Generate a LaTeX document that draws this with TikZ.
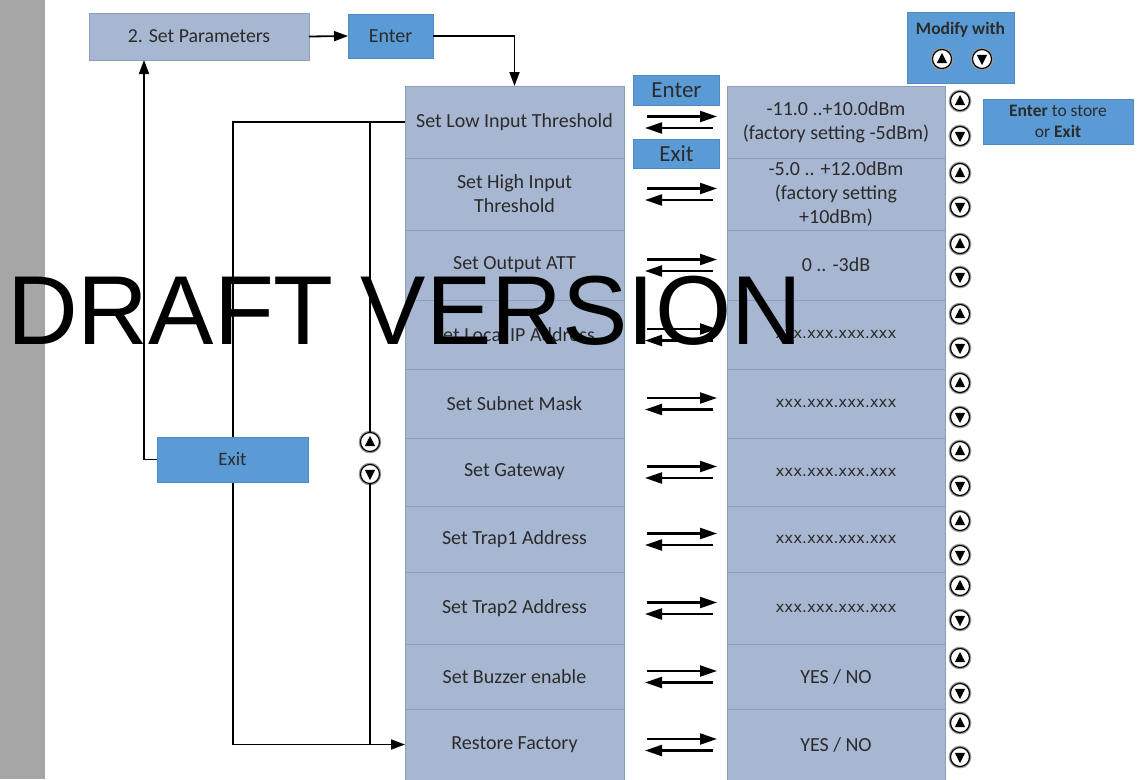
\documentclass[tikz,border=0pt]{standalone}
\usepackage{fontspec}
\setmainfont{Carlito}
\newfontfamily\arialf{Liberation Sans}
\newfontfamily\verd{DejaVu Sans}
\usetikzlibrary{arrows.meta,calc}
\definecolor{boxfill}{HTML}{A7B7D1}
\definecolor{boxline}{HTML}{8D9EBB}
\definecolor{bluefill}{HTML}{5B9BD5}
\definecolor{bluedge}{HTML}{4F8AC0}
\definecolor{txt}{HTML}{2B2B2B}
\definecolor{sidebar}{HTML}{A6A6A6}
\begin{document}
\begin{tikzpicture}[x=1pt,y=-1pt,
  lbox/.style={fill=boxfill, draw=boxline, line width=0.6pt, inner sep=0pt, outer sep=0pt,
    align=center, text=txt, font=\fontsize{20}{24}\selectfont},
  lcol/.style={lbox, minimum width=219pt},
  rcol/.style={lbox, minimum width=218pt},
  bbox/.style={fill=bluefill, draw=bluedge, line width=0.5pt, inner sep=0pt, outer sep=0pt,
    align=center, text=txt},
  conn/.style={line width=1.8pt, draw=black},
  arr/.style={conn, -{Triangle[length=14pt,width=10pt]}},
  dbl/.style={line width=2.2pt, draw=black, -{Triangle[length=17pt,width=11pt]}},
  btn/.style={circle, draw=black, line width=1.2pt, minimum size=19pt, inner sep=0pt, fill=white,
    preaction={draw=black!40, line width=3.6pt}},
  btnup/.style={btn, path picture={\fill[black] ([yshift=6pt]path picture bounding box.center)
     -- ([shift={(-5.2pt,-4.2pt)}]path picture bounding box.center)
     -- ([shift={(5.2pt,-4.2pt)}]path picture bounding box.center) -- cycle;}},
  btndn/.style={btn, path picture={\fill[black] ([yshift=-6pt]path picture bounding box.center)
     -- ([shift={(-5.2pt,4.2pt)}]path picture bounding box.center)
     -- ([shift={(5.2pt,4.2pt)}]path picture bounding box.center) -- cycle;}},
  ipf/.style={font=\verd\fontsize{15}{18}\selectfont}
]
\useasboundingbox (0,0) rectangle (1140,779);
\fill[sidebar] (0,0) rectangle (45,779);

% top boxes
\node[lbox, minimum width=220pt, minimum height=47pt, font=\fontsize{19.8}{22}\selectfont] (SP) at (199,36.5) {2. Set Parameters};
\node[bbox, minimum width=85pt, minimum height=44pt, font=\fontsize{20}{22}\selectfont] (EN) at (390.5,36) {Enter};

% left column
\node[lcol, minimum height=72pt] (L1) at (514.5,122) {Set Low Input Threshold};
\node[lcol, minimum height=72pt] (L2) at (514.5,194) {Set High Input\\Threshold};
\node[lcol, minimum height=70pt] (L3) at (514.5,265) {Set Output ATT};
\node[lcol, minimum height=69pt] (L4) at (514.5,334.5) {Set Local IP Address};
\node[lcol, minimum height=69pt] (L5) at (514.5,403.5) {Set Subnet Mask};
\node[lcol, minimum height=68pt] (L6) at (514.5,472) {Set Gateway};
\node[lcol, minimum height=66pt] (L7) at (514.5,539) {Set Trap1 Address};
\node[lcol, minimum height=72pt] (L8) at (514.5,608) {Set Trap2 Address};
\node[lcol, minimum height=65pt] (L9) at (514.5,676.5) {Set Buzzer enable};
\node[lcol, minimum height=71pt] (L10) at (514.5,744.5) {Restore Factory};

% right column
\node[rcol, minimum height=72pt] (R1) at (836,122) {-11.0 ..+10.0dBm\\(factory setting -5dBm)};
\node[rcol, minimum height=72pt] (R2) at (836,194) {-5.0 .. +12.0dBm\\(factory setting\\+10dBm)};
\node[rcol, minimum height=70pt] (R3) at (836,265) {0 .. -3dB};
\node[rcol, minimum height=69pt, ipf] (R4) at (836,334.5) {xxx.xxx.xxx.xxx};
\node[rcol, minimum height=69pt, ipf] (R5) at (836,403.5) {xxx.xxx.xxx.xxx};
\node[rcol, minimum height=68pt, ipf] (R6) at (836,472) {xxx.xxx.xxx.xxx};
\node[rcol, minimum height=66pt, ipf] (R7) at (836,539) {xxx.xxx.xxx.xxx};
\node[rcol, minimum height=72pt, ipf] (R8) at (836,608) {xxx.xxx.xxx.xxx};
\node[rcol, minimum height=65pt] (R9) at (836,676.5) {YES / NO};
\node[rcol, minimum height=71pt] (R10) at (836,744.5) {YES / NO};

% double arrows between columns
\foreach \i in {1,...,10}{
  \draw[dbl] ($(L\i.east)+(23,-5.5)$) -- ($(R\i.west)+(-10,-5.5)$);
  \draw[dbl] ($(R\i.west)+(-14,6)$) -- ($(L\i.east)+(21,6)$);
}

% enter / exit labels in the middle
\node[bbox, minimum width=86pt, minimum height=30pt, font=\fontsize{23}{24}\selectfont] (ENm) at (676.5,90.5) {Enter};
\node[bbox, minimum width=86pt, minimum height=29pt, font=\fontsize{23}{24}\selectfont] (EXm) at (676.5,154) {Exit};

% up/down buttons on the right
\foreach \i/\u/\d in {1/101/136,2/173/207,3/244/277,4/314/348,5/383/417,6/451/486,7/521/555,8/586/620,9/658/693,10/723/757}{
  \node[btnup] (U\i) at (960,\u) {};
  \node[btndn] (D\i) at (960,\d) {};
}

% modify box
\node[bbox, minimum width=107pt, minimum height=71pt] (MOD) at (960.5,47.5) {};
\node[font=\bfseries\fontsize{17.5}{20}\selectfont, text=txt, inner sep=0pt] (MODt) at (960.5,30) {Modify with};
\node[btnup] (MU) at (942,59) {};
\node[btndn] (MD) at (982,59) {};

% enter to store box
\node[bbox, minimum width=150pt, minimum height=45pt, font=\fontsize{17.5}{21}\selectfont] (ST) at (1058,121.5) {\textbf{Enter} to store\\or \textbf{Exit}};

% connectors top
\draw[arr] (SP.east) -- (EN.west);
\draw[arr] (EN.east) -| (L1.north);

% left loop
\coordinate (LL) at (233,400);
\draw[arr] (L1.west) -| (LL) |- (L10.west);
\node[btnup] (BU) at (370,442) {};
\node[btndn] (BD) at (370,474) {};
\draw[conn] (L1.west -| BU) -- (BU.north);
\draw[conn] (BD.south) -- (BD.south |- L10.west);

% exit box
\node[bbox, minimum width=151pt, minimum height=45pt, font=\fontsize{19}{22}\selectfont] (EX) at (232.5,459.5) {Exit};
\draw[arr] (EX.west) -| ($(SP.south west)!0.25!(SP.south east)$);

% watermark
\node[anchor=base west, inner sep=0pt, font=\arialf\fontsize{98}{100}\selectfont, text=black] (WM) at (7,344) {DRAFT VERSION};
\end{tikzpicture}
\end{document}
